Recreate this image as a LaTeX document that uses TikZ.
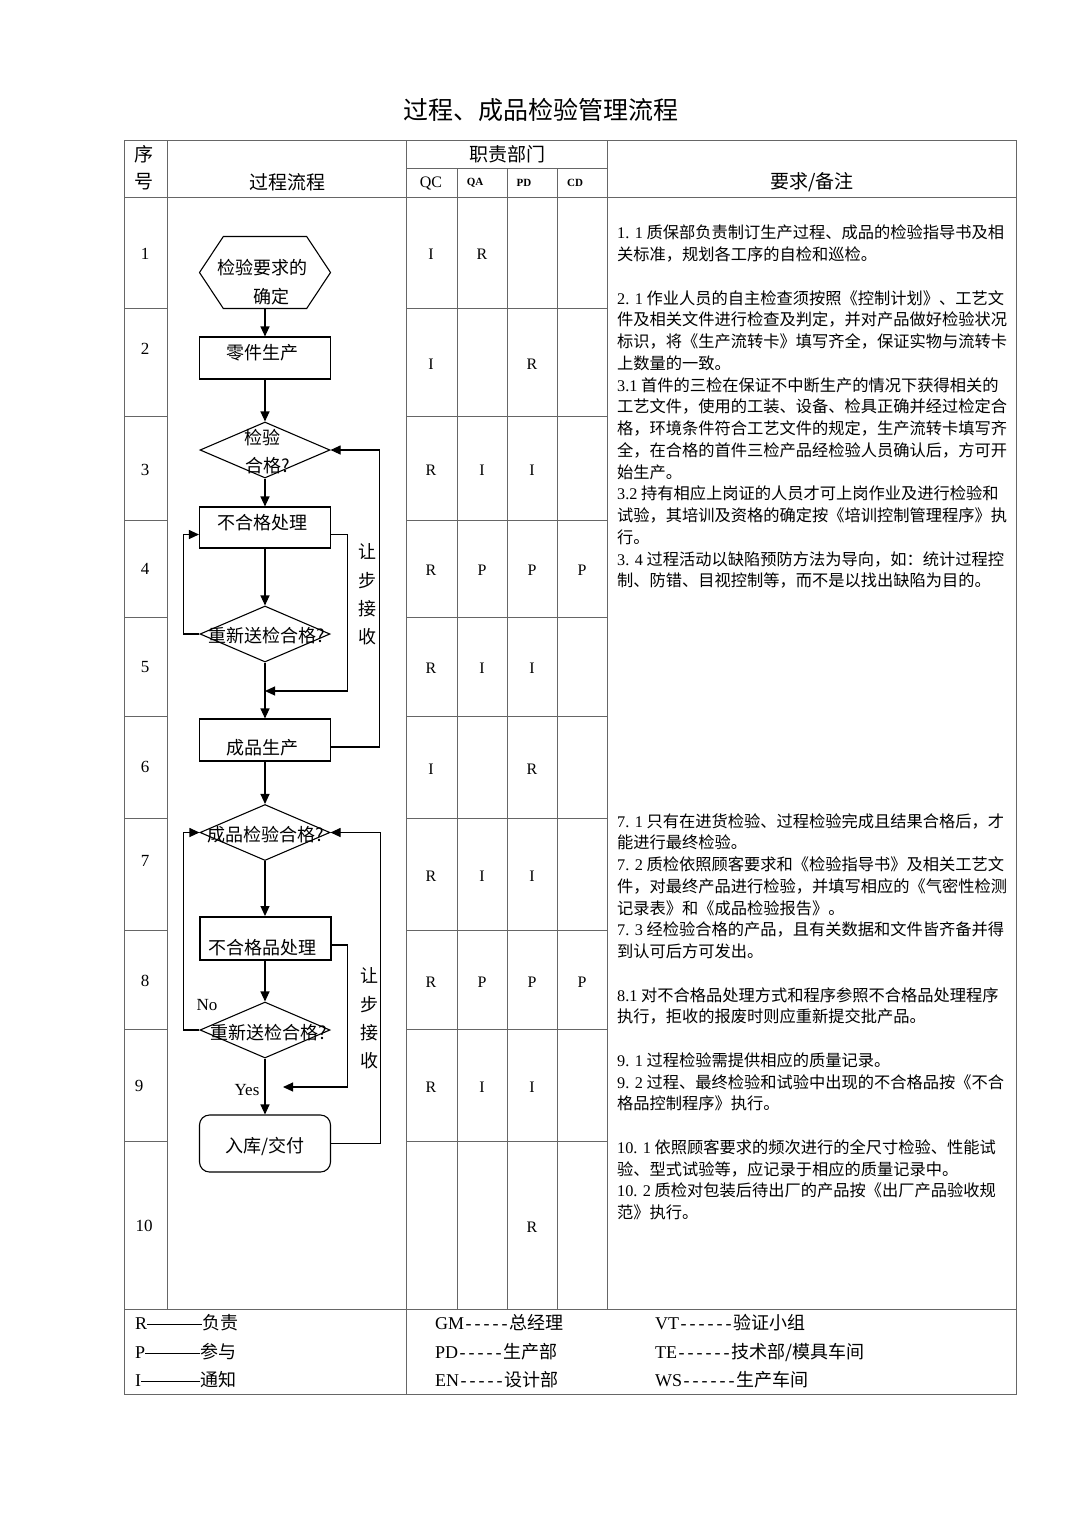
\documentclass[tikz,border=0pt]{standalone}
\usepackage{fontspec}
\setmainfont{Noto Sans CJK SC}
\newfontfamily\lat{Liberation Serif}
\usetikzlibrary{arrows.meta, shapes.geometric, shapes.symbols}

\newcommand\legdash[1]{\hbox to #1{\lat\leaders\hbox to 9pt{\hss-\hss}\hfill}}
\newcommand\legrule[1]{\raisebox{5.5pt}{\rule{#1}{0.7pt}}}

\tikzset{
  grid/.style = {line width=0.9pt, draw=black!60},
  box/.style = {draw, line width=1.1pt, minimum width=131pt, minimum height=42pt, inner sep=0pt},
  dec/.style = {draw, diamond, line width=1.1pt, minimum width=130pt, minimum height=56pt, inner sep=0pt},
  hexa/.style = {draw, signal, signal to=east and west, signal pointer angle=113,
    line width=1.1pt, minimum width=131pt, minimum height=72pt, inner sep=0pt},
  flow/.style = {line width=1.1pt, -{Triangle[length=10pt,width=9pt]}},
  ftxt/.style = {inner sep=0pt, font=\fontsize{18}{22}\selectfont},
  hd/.style = {inner sep=0pt, font=\fontsize{19}{23}\selectfont},
  lt/.style = {inner sep=0pt, font=\lat\fontsize{16}{19}\selectfont},
  ltb/.style = {inner sep=0pt, font=\lat\bfseries\fontsize{11}{13}\selectfont},
  num/.style = {inner sep=0pt, font=\lat\fontsize{17}{20}\selectfont},
  note/.style = {inner sep=0pt, anchor=north west, align=left, font=\fontsize{16.25}{21.75}\selectfont},
  leg/.style = {inner sep=0pt, anchor=west, font=\fontsize{18}{22}\selectfont}
}

\begin{document}
\begin{tikzpicture}[x=1pt, y=-1pt]
\fill[white] (0,0) rectangle (1080,1527);
\useasboundingbox (0,0) rectangle (1080,1527);

\node (title) at (541,110) {\fontsize{25}{30}\selectfont 过程、成品检验管理流程};

% table frame
\draw[grid] (124,140) rectangle (1016,1394);
\draw[grid]
	(124,197) -- (1016,197)
	(124,1309) -- (1016,1309)
	(406,168) -- (607,168)
	(167,140) -- (167,1309)
	(406,140) -- (406,1394)
	(607,140) -- (607,1309)
	(457,168) -- (457,1309)
	(507,168) -- (507,1309)
	(557,168) -- (557,1309);
\foreach \y in {308,416,520,617,716,818,930,1029,1141}
	\draw[grid] (124,\y) -- (167,\y) (406,\y) -- (607,\y);

% header
\node[hd] (seq-a) at (144,154) {序};
\node[hd] (seq-b) at (144,182) {号};
\node[hd] (proc-h) at (287,182) {过程流程};
\node[hd] (dept-h) at (507,154) {职责部门};
\node[lt] (qc-h) at (431,183) {QC};
\node[ltb] (qa-h) at (475,183) {QA};
\node[ltb] (pd-h) at (524,183) {PD};
\node[ltb] (cd-h) at (575,183) {CD};
\node[hd] (req-h) at (812,182) {要求/备注};

% row numbers
\node[num] (n1) at (145,254) {1};
\node[num] (n2) at (145,349) {2};
\node[num] (n3) at (145,470) {3};
\node[num] (n4) at (145,569) {4};
\node[num] (n5) at (145,667) {5};
\node[num] (n6) at (145,767) {6};
\node[num] (n7) at (145,861) {7};
\node[num] (n8) at (145,981) {8};
\node[num] (n9) at (139,1086) {9};
\node[num] (n10) at (144,1226) {10};

% responsibilities
\node[lt] (qc1) at (431,254) {I};
\node[lt] (qa1) at (482,254) {R};
\node[lt] (qc2) at (431,364) {I};
\node[lt] (pd2) at (532,364) {R};
\node[lt] (qc3) at (431,470) {R};
\node[lt] (qa3) at (482,470) {I};
\node[lt] (pd3) at (532,470) {I};
\node[lt] (qc4) at (431,570) {R};
\node[lt] (qa4) at (482,570) {P};
\node[lt] (pd4) at (532,570) {P};
\node[lt] (cd4) at (582,570) {P};
\node[lt] (qc5) at (431,668) {R};
\node[lt] (qa5) at (482,668) {I};
\node[lt] (pd5) at (532,668) {I};
\node[lt] (qc6) at (431,769) {I};
\node[lt] (pd6) at (532,769) {R};
\node[lt] (qc7) at (431,876) {R};
\node[lt] (qa7) at (482,876) {I};
\node[lt] (pd7) at (532,876) {I};
\node[lt] (qc8) at (431,982) {R};
\node[lt] (qa8) at (482,982) {P};
\node[lt] (pd8) at (532,982) {P};
\node[lt] (cd8) at (582,982) {P};
\node[lt] (qc9) at (431,1087) {R};
\node[lt] (qa9) at (482,1087) {I};
\node[lt] (pd9) at (532,1087) {I};
\node[lt] (pd10) at (532,1227) {R};

% flow shapes
\node[hexa] (spec) at (265,272.5) {};
\node[box] (part) at (265,358) {};
\node[dec] (chk) at (265,450) {};
\node[box, minimum height=41pt] (ncp) at (265,527.5) {};
\node[dec] (re1) at (265,634) {};
\node[box] (fin) at (265,740) {};
\node[dec] (fchk) at (265,832.5) {};
\node[box, line width=2pt, minimum height=43pt] (ncp2) at (265,938.5) {};
\node[dec] (re2) at (265,1030) {};
\node[box, rounded corners=10pt, minimum height=57pt] (store) at (265,1143.5) {};
\coordinate (join1) at (265,691);
\coordinate (join2) at (283,1087);

% flow texts
\node[ftxt] (spec-a) at (262,268) {检验要求的};
\node[ftxt] (spec-b) at (271,297) {确定};
\node[ftxt] (part-t) at (262,353) {零件生产};
\node[ftxt] (chk-a) at (262,438) {检验};
\node[ftxt] (chk-b) at (268,466) {合格?};
\node[ftxt] (ncp-t) at (262,523) {不合格处理};
\node[ftxt] (re1-t) at (267,636) {重新送检合格?};
\node[ftxt] (fin-t) at (262,748) {成品生产};
\node[ftxt] (fchk-t) at (266,835) {成品检验合格?};
\node[ftxt] (ncp2-t) at (262,948) {不合格品处理};
\node[ftxt] (re2-t) at (269,1033) {重新送检合格?};
\node[ftxt] (store-t) at (265,1146) {入库/交付};
\node[ftxt, align=center, font=\fontsize{18}{28.3}\selectfont] (yield1) at (367,594.5) {让\\步\\接\\收};
\node[ftxt, align=center, font=\fontsize{18}{28.3}\selectfont] (yield2) at (369,1018.5) {让\\步\\接\\收};
\node[ftxt, font=\lat\fontsize{17}{20}\selectfont] (no) at (207,1005) {No};
\node[ftxt, font=\lat\fontsize{17}{20}\selectfont] (yes) at (247,1090) {Yes};

% connectors
\draw[flow] (spec.south) -- (part.north);
\draw[flow] (part.south) -- (chk.north);
\draw[flow] (chk.south) -- (ncp.north);
\draw[flow] (ncp.south) -- (re1.north);
\draw[flow] (re1.south) -- (fin.north);
\draw[flow] (re1.west) -- ++(-16,0) |- ([yshift=-7pt]ncp.west);
\draw[flow] ([yshift=-7pt]ncp.east) -- ++(16,0) |- (join1);
\draw[flow] ([yshift=-7pt]fin.east) -- ++(48.5,0) |- (chk.east);
\draw[flow] (fin.south) -- (fchk.north);
\draw[flow] (fchk.south) -- (ncp2.north);
\draw[flow] (ncp2.south) -- (re2.north);
\draw[flow] (re2.south) -- (store.north);
\draw[flow] (re2.west) -- ++(-16,0) |- (fchk.west);
\draw[flow] ([yshift=-6.5pt]ncp2.east) -- ++(16,0) |- (join2);
\draw[flow] (store.east) -- ++(49.5,0) |- (fchk.east);

% requirements
\node[note] (req-a) at (617,225) {%
{\lat 1. 1} 质保部负责制订生产过程、成品的检验指导书及相\\
关标准，规划各工序的自检和巡检。\\[21.75pt]
{\lat 2. 1} 作业人员的自主检查须按照《控制计划》、工艺文\\
件及相关文件进行检查及判定，并对产品做好检验状况\\
标识，将《生产流转卡》填写齐全，保证实物与流转卡\\
上数量的一致。\\
{\lat 3.1} 首件的三检在保证不中断生产的情况下获得相关的\\
工艺文件，使用的工装、设备、检具正确并经过检定合\\
格，环境条件符合工艺文件的规定，生产流转卡填写齐\\
全，在合格的首件三检产品经检验人员确认后，方可开\\
始生产。\\
{\lat 3.2} 持有相应上岗证的人员才可上岗作业及进行检验和\\
试验，其培训及资格的确定按《培训控制管理程序》执\\
行。\\
{\lat 3. 4} 过程活动以缺陷预防方法为导向，如：统计过程控\\
制、防错、目视控制等，而不是以找出缺陷为目的。};
\node[note] (req-b) at (617,813) {%
{\lat 7. 1} 只有在进货检验、过程检验完成且结果合格后，才\\
能进行最终检验。\\
{\lat 7. 2} 质检依照顾客要求和《检验指导书》及相关工艺文\\
件，对最终产品进行检验，并填写相应的《气密性检测\\
记录表》和《成品检验报告》。\\
{\lat 7. 3} 经检验合格的产品，且有关数据和文件皆齐备并得\\
到认可后方可发出。\\[21.75pt]
{\lat 8.1} 对不合格品处理方式和程序参照不合格品处理程序\\
执行，拒收的报废时则应重新提交批产品。\\[21.75pt]
{\lat 9. 1} 过程检验需提供相应的质量记录。\\
{\lat 9. 2} 过程、最终检验和试验中出现的不合格品按《不合\\
格品控制程序》执行。\\[21.75pt]
{\lat 10. 1} 依照顾客要求的频次进行的全尺寸检验、性能试\\
验、型式试验等，应记录于相应的质量记录中。\\
{\lat 10. 2} 质检对包装后待出厂的产品按《出厂产品验收规\\
范》执行。};

% legend
\node[leg] (leg-r) at (135,1323) {{\lat R}\legrule{55pt}负责};
\node[leg] (leg-p) at (135,1352) {{\lat P}\legrule{55pt}参与};
\node[leg] (leg-i) at (135,1380) {{\lat I}\legrule{59pt}通知};
\node[leg] (leg-gm) at (435,1323) {{\lat GM}\legdash{45pt}总经理};
\node[leg] (leg-pd) at (435,1352) {{\lat PD}\legdash{45pt}生产部};
\node[leg] (leg-en) at (435,1380) {{\lat EN}\legdash{45pt}设计部};
\node[leg] (leg-vt) at (655,1323) {{\lat VT}\legdash{54pt}验证小组};
\node[leg] (leg-te) at (655,1352) {{\lat TE}\legdash{54pt}技术部/模具车间};
\node[leg] (leg-ws) at (655,1380) {{\lat WS}\legdash{54pt}生产车间};
\end{tikzpicture}
\end{document}
